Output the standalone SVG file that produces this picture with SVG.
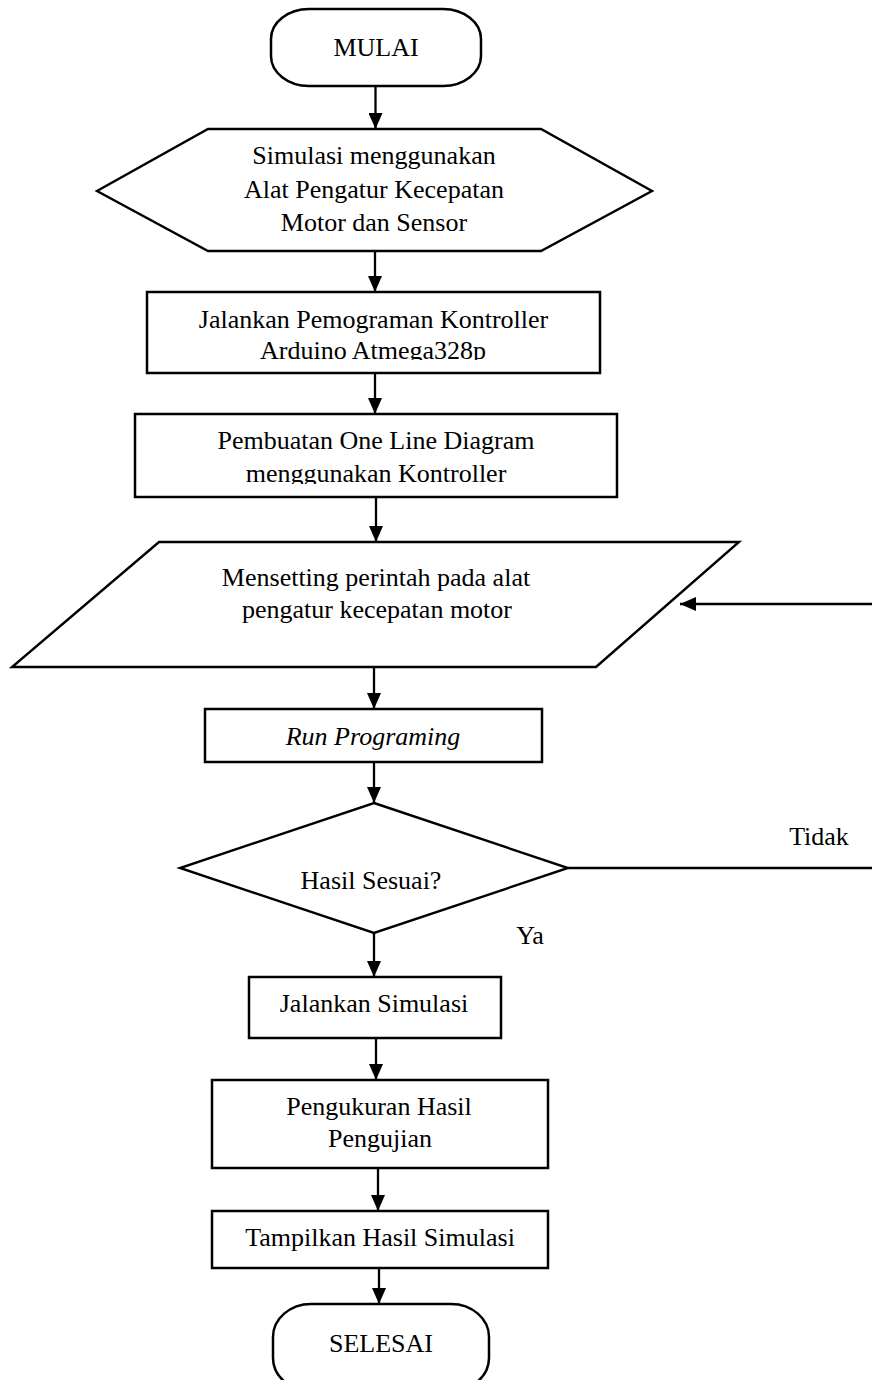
<svg xmlns="http://www.w3.org/2000/svg" width="872" height="1380" viewBox="0 0 872 1380">
<style>
.shape{fill:#fff;stroke:#000;stroke-width:2.5}
.poly{fill:#fff;stroke:#000;stroke-width:2.4}
.t{font-family:"Liberation Serif","Times New Roman",serif;font-size:26px;fill:#000;text-anchor:middle}
.it{font-style:italic}
.c{fill:none;stroke:#000;stroke-width:2.3}
</style>
<defs>
<marker id="ah" markerUnits="userSpaceOnUse" markerWidth="16" markerHeight="14" refX="16" refY="7" orient="auto">
<path d="M0,0 L16,7 L0,14 z" fill="#000"/>
</marker>
<clipPath id="clip1"><rect x="147" y="292" width="453" height="68"/></clipPath>
<clipPath id="clip2"><rect x="135" y="414" width="482" height="70"/></clipPath>
</defs>
<rect width="872" height="1380" fill="#fff"/>
<g id="connectors">
<line class="c" x1="375.5" y1="86" x2="375.5" y2="129" marker-end="url(#ah)"/>
<line class="c" x1="375" y1="251" x2="375" y2="292" marker-end="url(#ah)"/>
<line class="c" x1="375" y1="373" x2="375" y2="414" marker-end="url(#ah)"/>
<line class="c" x1="376" y1="497" x2="376" y2="542" marker-end="url(#ah)"/>
<line class="c" x1="374" y1="667" x2="374" y2="709" marker-end="url(#ah)"/>
<line class="c" x1="374" y1="762" x2="374" y2="803" marker-end="url(#ah)"/>
<line class="c" x1="374" y1="933" x2="374" y2="977" marker-end="url(#ah)"/>
<line class="c" x1="376" y1="1038" x2="376" y2="1080" marker-end="url(#ah)"/>
<line class="c" x1="378" y1="1168" x2="378" y2="1211" marker-end="url(#ah)"/>
<line class="c" x1="379" y1="1268" x2="379" y2="1304" marker-end="url(#ah)"/>
<line class="c" x1="568" y1="868" x2="872" y2="868"/>
<line class="c" x1="872" y1="604" x2="680" y2="604" marker-end="url(#ah)"/>
<text class="t" x="819" y="845">Tidak</text>
<text class="t" x="530" y="944">Ya</text>
</g>
<g id="mulai">
<rect class="shape" x="271" y="9" width="210" height="77" rx="38" ry="30"/>
<text class="t" x="376" y="56">MULAI</text>
</g>
<g id="simulasi">
<polygon class="poly" points="208,129 541,129 652,191 541,251 208,251 97,191"/>
<text class="t" x="374" y="164">Simulasi menggunakan</text>
<text class="t" x="374" y="197.5">Alat Pengatur Kecepatan</text>
<text class="t" x="374" y="231">Motor dan Sensor</text>
</g>
<g id="jalankan-pemograman">
<rect class="shape" x="147" y="292" width="453" height="81"/>
<g clip-path="url(#clip1)">
<text class="t" x="373.5" y="328">Jalankan Pemograman Kontroller</text>
<text class="t" x="373" y="359">Arduino Atmega328p</text>
</g>
</g>
<g id="pembuatan">
<rect class="shape" x="135" y="414" width="482" height="83"/>
<g clip-path="url(#clip2)">
<text class="t" x="376" y="449">Pembuatan One Line Diagram</text>
<text class="t" x="376" y="482">menggunakan Kontroller</text>
</g>
</g>
<g id="mensetting">
<polygon class="poly" points="159,542 739,542 596,667 12,667"/>
<text class="t" x="376" y="586">Mensetting perintah pada alat</text>
<text class="t" x="377" y="618">pengatur kecepatan motor</text>
</g>
<g id="run">
<rect class="shape" x="205" y="709" width="337" height="53"/>
<text class="t it" x="373" y="745">Run Programing</text>
</g>
<g id="hasil-sesuai">
<polygon class="poly" points="374,803 568,868 374,933 180,868"/>
<text class="t" x="371" y="889">Hasil Sesuai?</text>
</g>
<g id="jalankan-simulasi">
<rect class="shape" x="249" y="977" width="252" height="61"/>
<text class="t" x="374" y="1012">Jalankan Simulasi</text>
</g>
<g id="pengukuran">
<rect class="shape" x="212" y="1080" width="336" height="88"/>
<text class="t" x="379" y="1115">Pengukuran Hasil</text>
<text class="t" x="380" y="1147">Pengujian</text>
</g>
<g id="tampilkan">
<rect class="shape" x="212" y="1211" width="336" height="57"/>
<text class="t" x="380" y="1246">Tampilkan Hasil Simulasi</text>
</g>
<g id="selesai">
<rect class="shape" x="273" y="1304" width="216" height="87" rx="38" ry="33"/>
<text class="t" x="381" y="1352">SELESAI</text>
</g>
</svg>
